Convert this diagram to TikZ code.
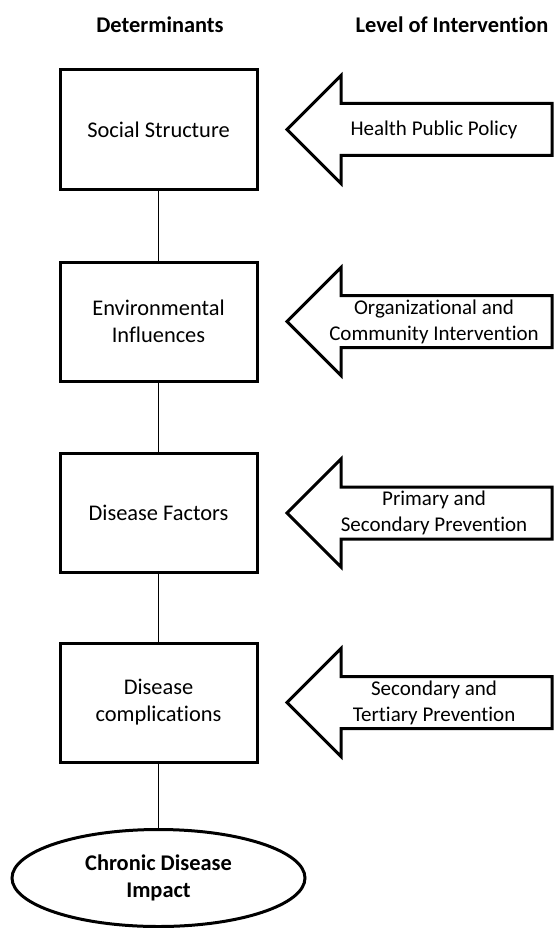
\documentclass[tikz,border=0pt]{standalone}
\usepackage{fontspec}
\setmainfont{Carlito}[Ligatures=NoCommon]
\usetikzlibrary{shapes.geometric}
\begin{document}
\begin{tikzpicture}[x=1pt,y=-1pt,
  detbox/.style={draw, line width=3pt, minimum width=197pt, minimum height=119pt, align=center, font=\fontsize{22.4}{27}\selectfont, inner sep=0pt},
  impact/.style={draw, ellipse, line width=3pt, minimum width=293pt, minimum height=97pt, align=center, font=\bfseries\fontsize{22.4}{27}\selectfont, inner sep=0pt},
  link/.style={line width=1.5pt},
  levarrow/.style={draw, line width=3pt, line join=miter, fill=white},
  levtext/.style={align=center, font=\fontsize{21}{26}\selectfont},
  heading/.style={font=\bfseries\fontsize{22.4}{27}\selectfont}]
\useasboundingbox (0,0) rectangle (555,928);

\node[heading] (hd) at (160,25) {Determinants};
\node[heading] (hl) at (452,25) {Level of Intervention};

\node[detbox] (ss) at (158.5,129.5) {Social Structure};
\node[detbox] (ei) at (158.5,321.5) {Environmental\\Influences};
\node[detbox] (df) at (158.5,513) {Disease Factors};
\node[detbox] (dc) at (158.5,702.5) {Disease\\complications};
\node[impact] (cdi) at (158.5,878) {Chronic Disease\\Impact};

\draw[link] (ss) -- (ei);
\draw[link] (ei) -- (df);
\draw[link] (df) -- (dc);
\draw[link] (dc) -- (cdi);

\foreach \yy in {129.5,321.5,513,702.5}{
  \draw[levarrow, shift={(0,\yy)}] (287,0) -- (341,-54) -- (341,-26) -- (552,-26) -- (552,26) -- (341,26) -- (341,54) -- cycle;
}
\node[levtext] (hp) at (434,129.5) {Health Public Policy};
\node[levtext] (oc) at (434,321.5) {Organizational and\\Community Intervention};
\node[levtext] (ps) at (434,513) {Primary and\\Secondary Prevention};
\node[levtext] (st) at (434,702.5) {Secondary and\\Tertiary Prevention};
\end{tikzpicture}
\end{document}
